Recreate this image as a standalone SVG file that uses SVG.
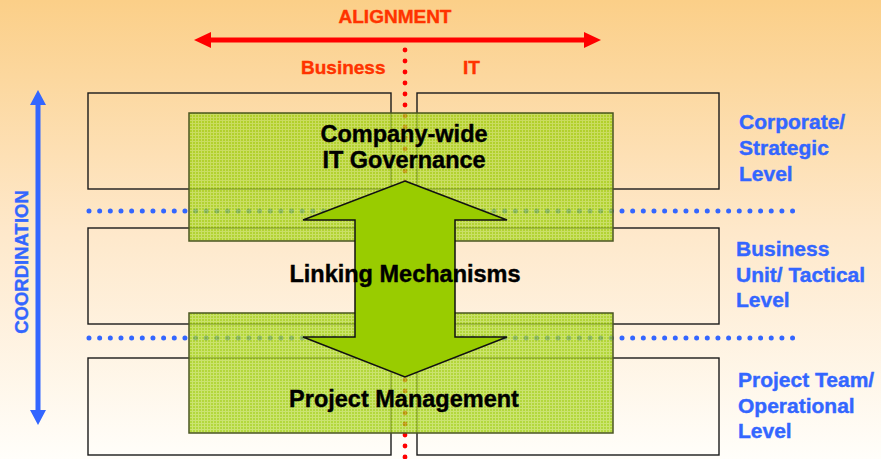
<svg xmlns="http://www.w3.org/2000/svg" width="881" height="459" viewBox="0 0 881 459">
<defs>
<linearGradient id="bg" x1="0" y1="0" x2="0" y2="1">
<stop offset="0" stop-color="#FBCF88"/>
<stop offset="0.5" stop-color="#FEE8CA"/>
<stop offset="1" stop-color="#FFFEFA"/>
</linearGradient>
<pattern id="mesh" width="3" height="3" patternUnits="userSpaceOnUse">
<rect width="3" height="3" fill="#99CC00"/>
<path d="M0 0.5H3M0.5 0V3" stroke="#D4EA80" stroke-width="1" opacity="0.55"/>
</pattern>
<style>
.box{fill:none;stroke:#1a1a1a;stroke-width:1.4}
.green{fill:url(#mesh);fill-opacity:0.75;stroke:#4a5520;stroke-width:1.5}
.center{font-family:"Liberation Sans",Arial,sans-serif;font-weight:bold;font-size:23.5px;fill:#000;stroke:#000;stroke-width:0.4;text-anchor:middle}
.level{font-family:"Liberation Sans",Arial,sans-serif;font-weight:bold;font-size:21px;fill:#3366FF;stroke:#3366FF;stroke-width:0.4}
.red{font-family:"Liberation Sans",Arial,sans-serif;font-weight:bold;font-size:19px;fill:#FF3300;stroke:#FF3300;stroke-width:0.4}
.bdots{stroke:#3366FF;stroke-width:5;stroke-linecap:round;stroke-dasharray:0 10.66;fill:none}
.rdots{stroke:#FF0000;stroke-width:4.8;stroke-linecap:round;stroke-dasharray:0 11;fill:none}
</style>
</defs>
<rect width="881" height="459" fill="url(#bg)"/>
<g id="connectors">
<line class="rdots" x1="405" y1="50" x2="405" y2="470"/>
</g>
<g id="box-corporate-business"><rect class="box" x="88" y="93" width="303" height="96"/></g>
<g id="box-corporate-it"><rect class="box" x="417" y="93" width="302" height="96"/></g>
<g id="box-tactical"><rect class="box" x="88" y="228" width="631" height="96"/></g>
<g id="box-operational-business"><rect class="box" x="88" y="358" width="303" height="97"/></g>
<g id="box-operational-it"><rect class="box" x="417" y="358" width="302" height="97"/></g>
<g id="level-separators">
<line class="bdots" x1="89" y1="211" x2="796" y2="211"/>
<line class="bdots" x1="89" y1="338" x2="796" y2="338"/>
</g>
<g id="governance"><rect class="green" x="189" y="113" width="424" height="128"/></g>
<g id="project-management"><rect class="green" x="189" y="313" width="424" height="120"/></g>
<g id="linking-arrow">
<polygon points="405,181 507,220 455,220 455,337 507,337 405,377 303,337 355,337 355,220 303,220" fill="#99CC00" stroke="#111" stroke-width="1.5" stroke-linejoin="miter"/>
</g>
<g id="labels">
<text class="center" x="404" y="142">Company-wide</text>
<text class="center" x="404" y="168">IT Governance</text>
<text class="center" x="405" y="282">Linking Mechanisms</text>
<text class="center" x="404" y="407">Project Management</text>
<text class="level" x="739" y="129">Corporate/</text>
<text class="level" x="739" y="155">Strategic</text>
<text class="level" x="739" y="181">Level</text>
<text class="level" x="736" y="256">Business</text>
<text class="level" x="736" y="282">Unit/ Tactical</text>
<text class="level" x="736" y="307">Level</text>
<text class="level" x="738" y="387">Project Team/</text>
<text class="level" x="738" y="413">Operational</text>
<text class="level" x="738" y="438">Level</text>
<text class="red" x="395" y="23" text-anchor="middle">ALIGNMENT</text>
<text class="red" x="301" y="74">Business</text>
<text class="red" x="463" y="74">IT</text>
<text x="28" y="262" transform="rotate(-90 28 262)" text-anchor="middle" font-family="Liberation Sans, Arial, sans-serif" font-weight="bold" font-size="18.5" fill="#3366FF" stroke="#3366FF" stroke-width="0.4">COORDINATION</text>
</g>
<g id="alignment-arrow">
<line x1="206" y1="40" x2="590" y2="40" stroke="#FF0000" stroke-width="5"/>
<polygon points="194,40 211,32 211,48" fill="#FF0000"/>
<polygon points="601,40 584,32 584,48" fill="#FF0000"/>
</g>
<g id="coordination-arrow">
<line x1="38" y1="100" x2="38" y2="415" stroke="#3366FF" stroke-width="5"/>
<polygon points="38,90 30,105 46,105" fill="#3366FF"/>
<polygon points="38,425 30,410 46,410" fill="#3366FF"/>
</g>
</svg>
